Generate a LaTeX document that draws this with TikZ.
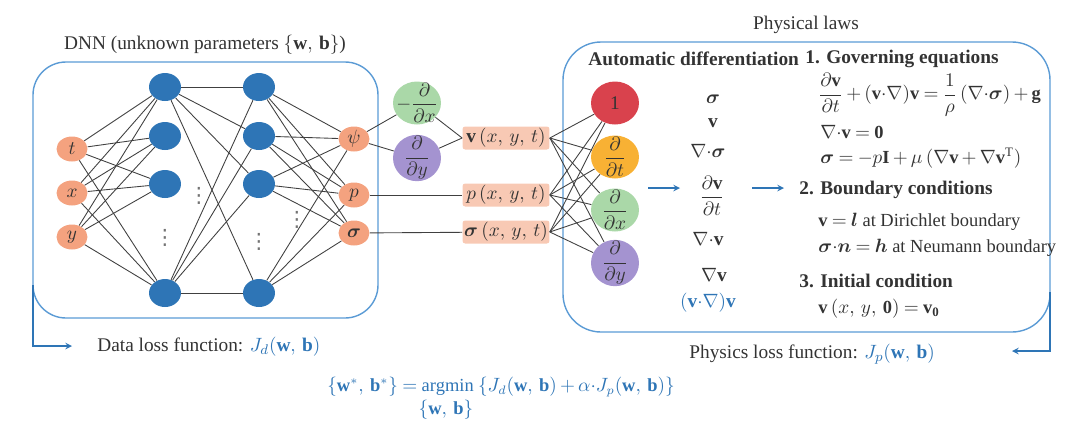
\documentclass[tikz,border=0pt]{standalone}
\usepackage{amsmath,amssymb}
\usepackage{fontspec}
\setmainfont{Liberation Serif}
\newfontfamily\symfont{DejaVu Sans}
\usepackage{tikz}
\usetikzlibrary{shapes.geometric}

\definecolor{salmon}{HTML}{F4A27F}
\definecolor{nnblue}{HTML}{2E75B6}
\definecolor{frameblue}{HTML}{5B9BD5}
\definecolor{dgreen}{HTML}{AAD8A8}
\definecolor{dpurple}{HTML}{A493D0}
\definecolor{dred}{HTML}{D9424D}
\definecolor{dorange}{HTML}{F8B134}
\definecolor{varfill}{HTML}{F8C9B4}
\definecolor{txtblue}{HTML}{2E75B6}
\definecolor{txtgray}{HTML}{333333}

\newcommand{\dotp}{{\cdot}}
\medmuskip=3mu plus 1mu minus 1mu
\thickmuskip=4mu plus 2mu

\begin{document}
\begin{tikzpicture}[x=0.02cm, y=-0.02cm, font=\fontsize{11}{13}\selectfont, text=txtgray,
	io/.style={ellipse, fill=salmon, minimum width=0.62cm, minimum height=0.5cm, inner sep=0pt},
	hid/.style={ellipse, fill=nnblue, minimum width=0.64cm, minimum height=0.56cm, inner sep=0pt},
	op/.style={ellipse, minimum width=0.96cm, minimum height=0.86cm, inner sep=-3pt},
	var/.style={rectangle, rounded corners=1.5pt, fill=varfill, minimum width=1.74cm, minimum height=0.46cm, inner sep=0pt},
	wire/.style={draw=black!75, line width=0.5pt},
	frame/.style={draw=frameblue, line width=0.8pt},
	loss/.style={draw=txtblue, line width=0.7pt, -stealth},
	eqn/.style={anchor=west, inner sep=0pt, font=\fontsize{10.5}{12}\selectfont},
	head/.style={anchor=west, inner sep=0pt, font=\fontsize{11}{13}\selectfont\bfseries},
	ellip/.style={inner sep=0pt, text=black!55, font=\symfont\fontsize{12}{14}\selectfont}]
					\useasboundingbox (0,0) rectangle (1080,427);
					
					\draw[frame, rounded corners=0.66cm] (33,62) rectangle (378,318);
					\draw[frame, rounded corners=0.76cm] (563,42) rectangle (1050,332);
					
					\node (dnntitle) at (205,45) {DNN (unknown parameters $\{\mathbf{w},\,\mathbf{b}\}$)};
					\node (lawstitle) at (806,25) {Physical laws};
					
					\node[io] (t) at (72,149) {$t$};
					\node[io] (x) at (72,193) {$x$};
					\node[io] (y) at (72,237) {$y$};
					
					\node[hid] (ha) at (165,87) {};
					\node[hid] (hb) at (165,136) {};
					\node[hid] (hc) at (165,184) {};
					\node[hid] (hd) at (165,293) {};
					
					\node[hid] (ka) at (259,87) {};
					\node[hid] (kb) at (259,136) {};
					\node[hid] (kc) at (259,184) {};
					\node[hid] (kd) at (259,293) {};
					
					\node[io] (psi) at (354,139) {$\psi$};
					\node[io] (p) at (354,195) {$p$};
					\node[io] (sig) at (354,233) {$\boldsymbol{\sigma}$};
					
					\node[ellip] (dotsa) at (165,238) {⋮};
					\node[ellip] (dotsb) at (199,196) {⋮};
					\node[ellip] (dotsc) at (259,242) {⋮};
					\node[ellip] (dotsd) at (297,220) {⋮};
					
					\draw[wire] (t) -- (ha);
					\draw[wire] (t) -- (hb);
					\draw[wire] (t) -- (hc);
					\draw[wire] (t) -- (hd);
					\draw[wire] (x) -- (ha);
					\draw[wire] (x) -- (hb);
					\draw[wire] (x) -- (hc);
					\draw[wire] (x) -- (hd);
					\draw[wire] (y) -- (ha);
					\draw[wire] (y) -- (hb);
					\draw[wire] (y) -- (hc);
					\draw[wire] (y) -- (hd);
					
					\draw[wire] (ha) -- (ka);
					\draw[wire] (ha) -- (kb);
					\draw[wire] (ha) -- (kc);
					\draw[wire] (ha) -- (kd);
					\draw[wire] (hd) -- (ka);
					\draw[wire] (hd) -- (kb);
					\draw[wire] (hd) -- (kc);
					\draw[wire] (hd) -- (kd);
					
					\draw[wire] (ka) -- (psi);
					\draw[wire] (ka) -- (p);
					\draw[wire] (ka) -- (sig);
					\draw[wire] (kb) -- (psi);
					\draw[wire] (kb) -- (p);
					\draw[wire] (kb) -- (sig);
					\draw[wire] (kc) -- (psi);
					\draw[wire] (kc) -- (p);
					\draw[wire] (kc) -- (sig);
					\draw[wire] (kd) -- (psi);
					\draw[wire] (kd) -- (p);
					\draw[wire] (kd) -- (sig);
					
					\node[op, fill=dgreen] (ddxneg) at (417,103) {$-\dfrac{\partial}{\partial x}$};
					\node[op, fill=dpurple] (ddyneg) at (417,158) {$\dfrac{\partial}{\partial y}$};
					
					\node[var] (vfield) at (506,138) {$\mathbf{v}\,(x,\,y,\,t)$};
					\node[var] (pfield) at (506,195) {$p\,(x,\,y,\,t)$};
					\node[var] (sfield) at (506,232) {$\boldsymbol{\sigma}\,(x,\,y,\,t)$};
					
					\draw[wire] (psi) -- (ddxneg);
					\draw[wire] (psi) -- (ddyneg);
					\draw[wire] (ddxneg) -- (vfield.west);
					\draw[wire] (ddyneg) -- (vfield.west);
					\draw[wire] (p) -- (pfield);
					\draw[wire] (sig) -- (sfield);
					
					\node[op, fill=dred] (one) at (615,103) {1};
					\node[op, fill=dorange] (ddt) at (615,157) {$\dfrac{\partial}{\partial t}$};
					\node[op, fill=dgreen] (ddx) at (615,210) {$\dfrac{\partial}{\partial x}$};
					\node[op, fill=dpurple] (ddy) at (615,263) {$\dfrac{\partial}{\partial y}$};
					
					\draw[wire] (vfield.east) -- (one);
					\draw[wire] (vfield.east) -- (ddt);
					\draw[wire] (vfield.east) -- (ddx);
					\draw[wire] (vfield.east) -- (ddy);
					\draw[wire] (pfield.east) -- (one);
					\draw[wire] (pfield.east) -- (ddt);
					\draw[wire] (pfield.east) -- (ddx);
					\draw[wire] (pfield.east) -- (ddy);
					\draw[wire] (sfield.east) -- (one);
					\draw[wire] (sfield.east) -- (ddt);
					\draw[wire] (sfield.east) -- (ddx);
					\draw[wire] (sfield.east) -- (ddy);
					
					% derived quantities
					\node (csig) at (713,99) {$\boldsymbol{\sigma}$};
					\node (cv) at (713,123) {$\mathbf{v}$};
					\node (cdivsig) at (708,151) {$\nabla\dotp\boldsymbol{\sigma}$};
					\node (cdvdt) at (712,196) {$\dfrac{\partial\mathbf{v}}{\partial t}$};
					\node (cdivv) at (708,239) {$\nabla\dotp\mathbf{v}$};
					\node (cgradv) at (714,275) {$\nabla\mathbf{v}$};
					\node[text=txtblue] (cconv) at (708,303) {$(\mathbf{v}\dotp\nabla)\mathbf{v}$};
					
					\coordinate (ara) at (648,188);
					\coordinate (arb) at (680,188);
					\coordinate (arc) at (752,188);
					\coordinate (ard) at (784,188);
					\draw[loss] (ara) -- (arb);
					\draw[loss] (arc) -- (ard);
					
					% physical laws
					\node[head] (autodiff) at (588,59) {Automatic differentiation};
					\node[head] (govhead) at (805,59) {1. Governing equations};
					\node[eqn] (goveqa) at (818,95) {$\dfrac{\partial\mathbf{v}}{\partial t}+(\mathbf{v}\dotp\nabla)\mathbf{v}=\dfrac{1}{\rho}\,(\nabla\dotp\boldsymbol{\sigma})+\mathbf{g}$};
					\node[eqn] (goveqb) at (820,132) {$\nabla\dotp\mathbf{v}=\mathbf{0}$};
					\node[eqn] (goveqc) at (820,158) {$\boldsymbol{\sigma}=-p\mathbf{I}+\mu\,(\nabla\mathbf{v}+\nabla\mathbf{v}^{\mathrm{T}})$};
					\node[head] (bchead) at (799,190) {2. Boundary conditions};
					\node[eqn] (bceqa) at (818,222) {$\mathbf{v}=\boldsymbol{l}$ at Dirichlet boundary};
					\node[eqn] (bceqb) at (818,248) {$\boldsymbol{\sigma}\dotp\boldsymbol{n}=\boldsymbol{h}$ at Neumann boundary};
					\node[head] (ichead) at (799,281) {3. Initial condition};
					\node[eqn] (iceq) at (818,309) {$\mathbf{v}\,(x,\,y,\,\mathbf{0})=\mathbf{v}_{\mathbf{0}}$};
					
					% loss functions
					\node[anchor=west, inner sep=0pt] (dataloss) at (97,347) {Data loss function: \textcolor{txtblue}{$J_d(\mathbf{w},\,\mathbf{b})$}};
					\node[anchor=west, inner sep=0pt] (physloss) at (689,354) {Physics loss function: \textcolor{txtblue}{$J_p(\mathbf{w},\,\mathbf{b})$}};
					
					\coordinate (dla) at (33,285);
					\coordinate (dlb) at (72,346);
					\coordinate (pla) at (1050,292);
					\coordinate (plb) at (1012,351);
					\draw[loss] (dla) |- (dlb);
					\draw[loss] (pla) |- (plb);
					
					\node[text=txtblue, font=\fontsize{10.5}{12}\selectfont] (objective) at (501,387) {$\{\mathbf{w}^{*},\,\mathbf{b}^{*}\}=\mathrm{argmin}\;\{J_d(\mathbf{w},\,\mathbf{b})+\alpha\dotp J_p(\mathbf{w},\,\mathbf{b})\}$};
					\node[text=txtblue, font=\fontsize{10.5}{12}\selectfont] (argset) at (446,410) {$\{\mathbf{w},\,\mathbf{b}\}$};
					
\end{tikzpicture}
\end{document}
